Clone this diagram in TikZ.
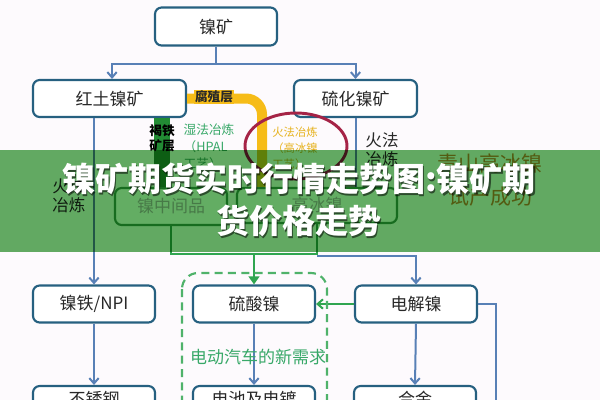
\documentclass[tikz,border=0pt]{standalone}
\usepackage{fontspec}
\setmainfont{Noto Sans CJK SC}
\usetikzlibrary{arrows.meta,calc}
\definecolor{bordc}{RGB}{38,96,128}
\definecolor{linec}{RGB}{88,128,182}
\definecolor{grn}{RGB}{48,165,80}
\definecolor{gtext}{RGB}{56,168,104}
\definecolor{ylw}{RGB}{246,188,24}
\definecolor{ytext}{RGB}{230,178,30}
\definecolor{redc}{RGB}{165,35,70}
\definecolor{dkgrn}{RGB}{34,140,52}
\definecolor{bandc}{RGB}{99,173,99}
\definecolor{bgc}{RGB}{253,250,253}
\definecolor{txt}{RGB}{40,40,40}
\definecolor{olivec}{RGB}{215,135,45}
\definecolor{gboxc}{RGB}{60,160,80}
\definecolor{gboxt}{RGB}{185,180,185}
\begin{document}
\begin{tikzpicture}[x=0.75pt,y=-0.75pt,
  font=\fontsize{12.75}{15}\selectfont,
  box/.style={draw=bordc, line width=1.6pt, rounded corners=5pt, fill=white,
    minimum width=91.5pt, minimum height=27.75pt, inner sep=0pt, text=txt},
  gbox/.style={draw=gboxc, line width=1.6pt, rounded corners=5pt, fill=white,
    minimum height=27.75pt, inner sep=0pt, text=gboxt},
  conn/.style={draw=linec, line width=1.5pt},
  arr/.style={conn, -{Straight Barb[length=4pt,width=7pt]}},
  gconn/.style={draw=grn, line width=2pt},
  garr/.style={gconn, -{Triangle[length=6pt,width=8pt]}},
  garr2/.style={draw=grn, line width=1.5pt, -{Straight Barb[length=4pt,width=7pt]}},
  side/.style={align=left, inner sep=0pt},
]
\useasboundingbox (0,0) rectangle (600,400);
\clip (0,0) rectangle (600,400);
\fill[bgc] (0,0) rectangle (600,400);

% boxes
\node[box, minimum height=28.5pt] (nk) at (216,26.5) {镍矿};
\node[box, minimum width=114.75pt] (htk) at (109.5,98.5) {红土镍矿};
\node[box, minimum width=92.25pt] (lhk) at (355.5,98.5) {硫化镍矿};
\node[box] (npi) at (94,304) {镍铁/NPI};
\node[box] (lsn) at (254,304) {硫酸镍};
\node[box] (djn) at (416,304) {电解镍};
\node[box, minimum height=19.5pt] (bxg) at (94,399) {不锈钢};
\node[box, minimum height=19.5pt] (dc) at (254,399) {电池及电镀};
\node[box, minimum height=19.5pt] (hj) at (415,399) {合金};

% top connectors
\draw[conn] (nk.south) -- ++(0,17) coordinate (j1);
\draw[arr] (j1) -| ([xshift=1.9pt]htk.north);
\draw[arr] (j1) -| (lhk.north);
\draw[arr] (htk.south -| npi.north) -- (npi.north);
\draw[arr] (npi.south) -- (bxg.north);
\draw[arr] (lsn.south) -- (dc.north);
\draw[arr] (djn.south) -- (hj.north);
\draw[conn] (djn.east) -- ++(18,0) coordinate (k1) -- ++(0,120);

% middle green boxes
\node[gbox, minimum width=84pt] (zjp) at (171,206.5) {镍中间品};
\node[gbox, minimum width=120pt, minimum height=26.25pt] (gbn) at (317,205.5) {高冰镍};
\draw[conn] (lhk.south) -- (lhk.south |- gbn.north);

% yellow path and dark green bar
\draw[ylw, line width=7.5pt, rounded corners=12pt] (htk.east) -| ($(gbn.north)+(-55,0)$);
\node[fill=ylw, inner sep=1pt, font=\bfseries\fontsize{9.5}{11}\selectfont, text=txt] (fzc) at (214,97) {腐殖层};
\draw[dkgrn, line width=12pt] ($(htk.south)+(52.5,0)$) -- ($(zjp.north)+(-9,0)$);
\node[align=center, inner sep=0pt, font=\bfseries\fontsize{9.5}{11.25}\selectfont, text=black] (htl) at (162,138) {褐铁\\矿层};

% red ellipse
\draw[redc, line width=2.2pt] (296,146) ellipse [x radius=38.25pt, y radius=24.75pt];
\node[side, font=\fontsize{8.5}{12}\selectfont, text=ytext] (hfy) at (295,148) {火法冶炼\\（高冰镍\\工艺）};
\node[side, font=\fontsize{9.5}{12.75}\selectfont, text=gtext] (sf) at (209,147) {湿法冶炼\\（HPAL\\工艺）};
\node[side, font=\fontsize{12.4}{14.25}\selectfont, text=txt] (hfr) at (382,150) {火法\\冶炼};
\node[side, font=\fontsize{12.4}{14.25}\selectfont, text=txt] (hfl) at (69,196) {火法\\冶炼};
\node[align=center, inner sep=0pt, font=\fontsize{15.75}{24.75}\selectfont, text=olivec] (qs) at (490,180) {青山高冰镍\\试产成功};

% lower green connectors
\draw[gconn] (zjp.south) -- ++(0,28) coordinate (g1) -| (gbn.south);
\coordinate (g2) at (g1 -| lsn.north);
\draw[garr] (g2) -- (lsn.north);
\coordinate (b1) at ($(g1 -| gbn.south)+(0,1.5)$);
\draw[arr] (b1) -| (djn.north);
\draw[garr2] (djn.west) -- (lsn.east);

% dashed region
\draw[draw=grn!85!white, line width=1.6pt, dash pattern=on 6pt off 4pt, rounded corners=12pt] (182,273) rectangle (327,440);
\node[inner sep=0pt, text=gtext] (ev) at (258,357) {电动汽车的新需求};

% band
\begin{scope}[blend mode=multiply]
\fill[bandc] (0,150) rectangle (600,252);
\end{scope}

% title
\node[align=center, inner sep=0pt, font=\bfseries\fontsize{24.75}{31.5}\selectfont, text=black, opacity=0.55] (tsh) at (300.5,201.5) {镍矿期货实时行情走势图:镍矿期\\货价格走势};
\node[align=center, inner sep=0pt, font=\bfseries\fontsize{24.75}{31.5}\selectfont, text=white] (title) at (299,200) {镍矿期货实时行情走势图:镍矿期\\货价格走势};
\end{tikzpicture}
\end{document}
